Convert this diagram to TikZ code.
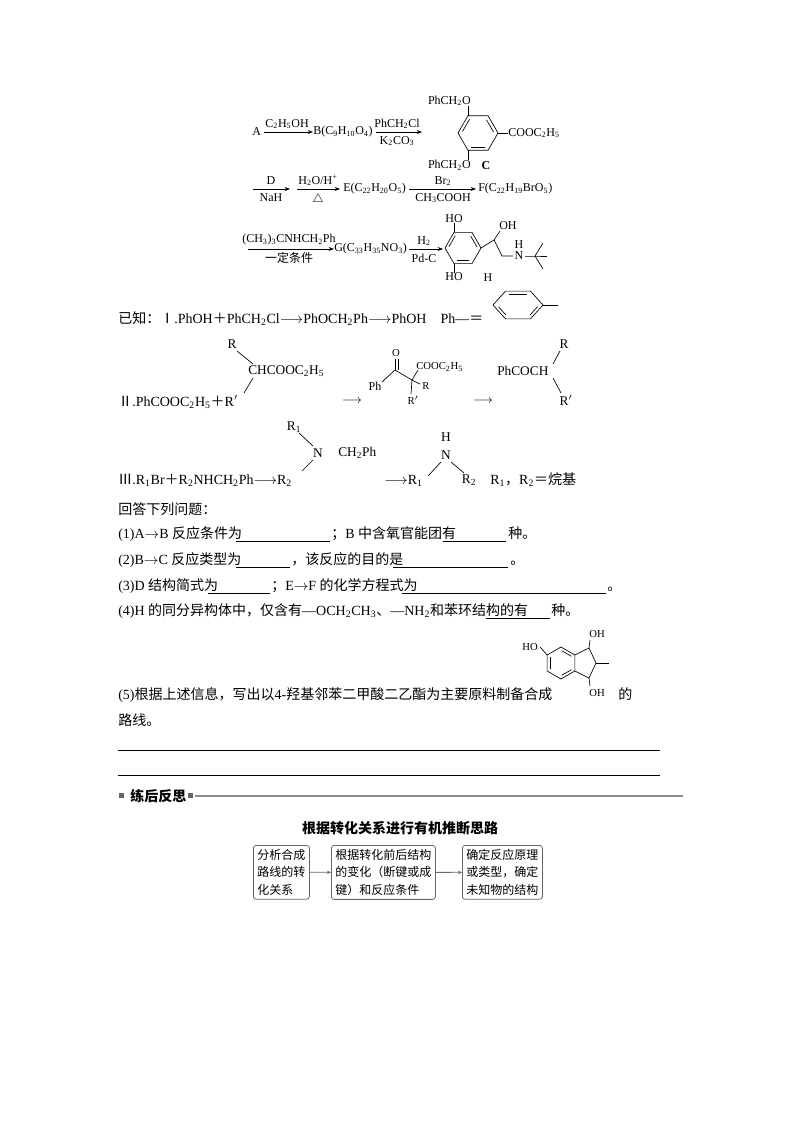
\documentclass[tikz,border=0pt]{standalone}
\usepackage{fontspec}
\setmainfont{Liberation Serif}
\newfontfamily\cjk{Noto Sans CJK SC}
\usetikzlibrary{arrows.meta,calc}
\newcommand{\z}[1]{{\cjk #1}}
\newcommand{\bz}[1]{{\cjk\bfseries #1}}
\newcommand{\cs}[1]{\textsubscript{#1}}
\begin{document}
\begin{tikzpicture}[x=0.75pt,y=-0.75pt,
  t/.style={inner sep=0pt,font=\fontsize{9}{10}\selectfont},
  q/.style={inner sep=0pt,anchor=base west,font=\fontsize{10.5}{12}\selectfont},
  rx/.style={-{Stealth[length=4pt,width=3pt]},line width=0.5pt},
  bd/.style={line width=0.5pt},
  ul/.style={line width=0.5pt},
  bx/.style={draw=black!60,rounded corners=2pt,line width=0.6pt,inner sep=3pt,align=left,font=\cjk\fontsize{9}{13}\selectfont},
  ga/.style={-{Stealth[length=3pt,width=2.5pt]},draw=black!60,line width=0.6pt}]
\useasboundingbox (0,0) rectangle (800,1132);
% ---------- row 1
\node[t,anchor=west] (A) at (252,132) {A};
\node[t,anchor=west] (B) at (313,132) {B(C\cs{9}H\cs{10}O\cs{4})};
\draw[rx] (A.east)++(3,0) coordinate (a1) -- (B.west) coordinate (a2);
\node[t] (r1) at (287,124) {C\cs{2}H\cs{5}OH};
\coordinate (c1) at (422,132);
\draw[rx] (B.east)++(3,0) coordinate (b1) -- (c1);
\node[t] (r2) at (397,124) {PhCH\cs{2}Cl};
\node[t] (r3) at (397,141) {K\cs{2}CO\cs{3}};
% ring C
\foreach \i in {0,...,5}{\coordinate (C\i) at ($(478,133)+(\i*60:20 and -20)$);}
\draw[bd] (C0)--(C1)--(C2)--(C3)--(C4)--(C5)--cycle;
\draw[bd] ($(C0)!0.15!(C1)+(-3,1.5)$)--($(C0)!0.85!(C1)+(-3,1.5)$);
\draw[bd] ($(C2)!0.15!(C3)+(3,1)$)--($(C2)!0.85!(C3)+(3,1)$);
\draw[bd] ($(C4)!0.15!(C5)+(0,-3)$)--($(C4)!0.85!(C5)+(0,-3)$);
\node[t,anchor=south east] (o1) at ($(C2)+(3,-10)$) {PhCH\cs{2}O};
\node[t,anchor=north east] (o2) at ($(C4)+(3,10)$) {PhCH\cs{2}O};
\draw[bd] (C2)--++(0,-10);
\draw[bd] (C4)--++(0,10);
\draw[bd] (C0)--++(10,0) node[t,anchor=west] (ce) {COOC\cs{2}H\cs{5}};
\node[t,font=\bfseries\fontsize{9}{10}\selectfont] (Cl) at (486,166) {C};
% ---------- row 2
\coordinate (d0) at (253,189); \coordinate (d1) at (290,189);
\draw[rx] (d0)--(d1);
\node[t] (dD) at (271,181) {D}; \node[t] (dN) at (271,198) {NaH};
\coordinate (e0) at (297,189); \coordinate (e1) at (340,189);
\draw[rx] (e0)--(e1);
\node[t] (eH) at (318,180) {H\cs{2}O/H\textsuperscript{+}}; \node[t] (eD) at (318,199) {$\triangle$};
\node[t,anchor=west] (E) at (343,189) {E(C\cs{22}H\cs{20}O\cs{5})};
\coordinate (f1) at (476,189);
\draw[rx] (E.east)++(3,0) coordinate (f0) -- (f1);
\node[t] (fB) at (443,181) {Br\cs{2}}; \node[t] (fC) at (443,198) {CH\cs{3}COOH};
\node[t,anchor=west] (F) at (478,189) {F(C\cs{22}H\cs{19}BrO\cs{5})};
% ---------- row 3
\coordinate (g0) at (248,249);
\node[t,anchor=west] (G) at (334,249) {G(C\cs{33}H\cs{35}NO\cs{3})};
\draw[rx] (g0)--(G.west);
\node[t] (gr) at (289,240) {(CH\cs{3})\cs{3}CNHCH\cs{2}Ph};
\node[t] (gc) at (289,258) {\z{一定条件}};
\coordinate (h1) at (443,249);
\draw[rx] (G.east)++(2,0) coordinate (h0) -- (h1);
\node[t] (hH) at (424,241) {H\cs{2}}; \node[t] (hP) at (424,258) {Pd-C};
% ring H
\foreach \i in {0,...,5}{\coordinate (H\i) at ($(463,248)+(\i*60:18 and -18)$);}
\draw[bd] (H0)--(H1)--(H2)--(H3)--(H4)--(H5)--cycle;
\draw[bd] ($(H0)!0.15!(H1)+(-2.6,1.4)$)--($(H0)!0.85!(H1)+(-2.6,1.4)$);
\draw[bd] ($(H2)!0.15!(H3)+(2.6,1)$)--($(H2)!0.85!(H3)+(2.6,1)$);
\draw[bd] ($(H4)!0.15!(H5)+(0,-2.8)$)--($(H4)!0.85!(H5)+(0,-2.8)$);
\draw[bd] (H2)--++(0,-9) node[t,anchor=south] (ho1) {HO};
\draw[bd] (H4)--++(0,9) node[t,anchor=north] (ho2) {HO};
\coordinate (k1) at (494,240); \coordinate (k2) at (502,256);
\draw[bd] (H0)--(k1)--(k2)--(513,256);
\draw[bd] (k1)--(500,231);
\node[t,anchor=west] (oh) at (499,226) {OH};
\node[t] (Nn) at (519,256) {N}; \node[t] (NH) at (519,245) {H};
\coordinate (qc) at (535,256);
\draw[bd] (525,256)--(qc)--(547,256);
\draw[bd] (qc)--(543,243); \draw[bd] (qc)--(543,269);
\node[t] (Hl) at (488,278) {H};
% ---------- known I
\node[q] (k1t) at (118,323) {\z{已知：Ⅰ}.PhOH\z{＋}PhCH\cs{2}Cl$\longrightarrow$PhOCH\cs{2}Ph$\longrightarrow$PhOH\quad Ph—\z{＝}};
\foreach \i in {0,...,5}{\coordinate (P\i) at ($(518,305)+(\i*60:25 and -16)$);}
\draw[bd] (P0)--(P1)--(P2)--(P3)--(P4)--(P5)--cycle;
\draw[bd] ($(P1)!0.15!(P2)+(0,3)$)--($(P1)!0.85!(P2)+(0,3)$);
\draw[bd] ($(P3)!0.2!(P4)+(3,-1)$)--($(P3)!0.8!(P4)+(3,-1)$);
\draw[bd] ($(P5)!0.2!(P0)+(-3,-1)$)--($(P5)!0.8!(P0)+(-3,-1)$);
\draw[bd] (P0)--(558,305);
% ---------- known II
\node[q] (k2t) at (118,406) {\z{Ⅱ}.PhCOOC\cs{2}H\cs{5}\z{＋}R$'$};
\node[t,font=\fontsize{10}{11}\selectfont] (R1) at (232,344) {R};
\node[t,anchor=west,font=\fontsize{10}{11}\selectfont] (CH) at (248,371) {CHCOOC\cs{2}H\cs{5}};
\draw[bd] (237,351)--(253,364); \draw[bd] (253,378)--(244,393);
\node[t] (ar2) at (352,401) {$\longrightarrow$};
\node[t] (Ph2) at (375,386) {Ph};
\coordinate (m1) at (395,370); \coordinate (m2) at (412,380);
\draw[bd] (382,382)--(m1)--(m2);
\draw[bd] (m1)--(395,359); \draw[bd] (398,370)--(398,359);
\node[t,font=\fontsize{8}{9}\selectfont] (O2) at (396,353) {O};
\draw[bd] (m2)--(418,370); \draw[bd] (m2)--(420,384); \draw[bd] (m2)--(411,394);
\node[t,anchor=west,font=\fontsize{8}{9}\selectfont] (co2) at (416,367) {COOC\cs{2}H\cs{5}};
\node[t,font=\fontsize{8}{9}\selectfont] (R2) at (426,386) {R};
\node[t,font=\fontsize{8}{9}\selectfont] (R2p) at (413,400) {R$'$};
\node[t] (ar3) at (483,401) {$\longrightarrow$};
\node[t,anchor=west,font=\fontsize{10}{11}\selectfont] (PC) at (497,371) {PhCOCH};
\node[t,font=\fontsize{10}{11}\selectfont] (R3) at (564,344) {R};
\node[t,font=\fontsize{10}{11}\selectfont] (R3p) at (566,400) {R$'$};
\draw[bd] (560,351)--(553,364); \draw[bd] (553,378)--(561,393);
% ---------- known III
\node[q] (k3t) at (118,484) {\z{Ⅲ}.R\cs{1}Br\z{＋}R\cs{2}NHCH\cs{2}Ph$\longrightarrow$R\cs{2}};
\node[t,font=\fontsize{10}{11}\selectfont] (N1) at (318,453) {N};
\node[t,font=\fontsize{10}{11}\selectfont] (ra) at (294,427) {R\cs{1}};
\node[t,anchor=west,font=\fontsize{10}{11}\selectfont] (cp) at (338,453) {CH\cs{2}Ph};
\draw[bd] (299,433)--(313,446); \draw[bd] (313,460)--(302,471);
\node[q] (ar4) at (384,484) {$\longrightarrow$R\cs{1}};
\node[t,font=\fontsize{10}{11}\selectfont] (N2) at (446,455) {N};
\node[t,font=\fontsize{10}{11}\selectfont] (N2H) at (446,437) {H};
\node[t,font=\fontsize{10}{11}\selectfont] (rb) at (469,480) {R\cs{2}};
\draw[bd] (441,462)--(428,476); \draw[bd] (451,462)--(464,473);
\node[q] (alk) at (490,484) {R\cs{1}\z{，}R\cs{2}\z{＝烷基}};
% ---------- questions
\node[q] (qa) at (118,514) {\z{回答下列问题：}};
\node[q] (q1) at (118,538) {(1)A$\rightarrow$B \z{反应条件为}};
\node[q] (q1m) at (331,538) {\z{；}B \z{中含氧官能团有}};
\draw[ul] (236,541)--(330,541); \draw[ul] (443,541)--(506,541);
\node[q] (q1b) at (508,538) {\z{种。}};
\node[q] (q2) at (118,564) {(2)B$\rightarrow$C \z{反应类型为}};
\draw[ul] (236,567)--(290,567); \draw[ul] (393,567)--(508,567);
\node[q] (q2b) at (291,564) {\z{，该反应的目的是}};
\node[q] (q2c) at (510,564) {\z{。}};
\node[q] (q3) at (118,590) {(3)D \z{结构简式为}};
\draw[ul] (208,593)--(270,593); \draw[ul] (402,593)--(606,593);
\node[q] (q3b) at (271,590) {\z{；}E$\rightarrow$F \z{的化学方程式为}};
\node[q] (q3c) at (607,590) {\z{。}};
\node[q] (q4) at (118,615) {(4)H \z{的同分异构体中，仅含有}—OCH\cs{2}CH\cs{3}\z{、}—NH\cs{2}\z{和苯环结构的有}};
\draw[ul] (486,618)--(550,618);
\node[q] (q4b) at (551,615) {\z{种。}};
\node[q] (q5) at (118,699) {(5)\z{根据上述信息，写出以}4-\z{羟基邻苯二甲酸二乙酯为主要原料制备合成}};
\node[q] (q5b) at (618,699) {\z{的}};
\node[q] (q5c) at (118,725) {\z{路线。}};
\draw[ul] (118,750)--(660,750); \draw[ul] (118,775)--(660,775);
% indane
\foreach \i in {0,...,5}{\coordinate (I\i) at ($(561,663)+(90+\i*60:16 and -16)$);}
\draw[bd] (I0)--(I1)--(I2)--(I3)--(I4)--(I5)--cycle;
\draw[bd] ($(I1)!0.15!(I2)+(2.8,0)$)--($(I1)!0.85!(I2)+(2.8,0)$);
\draw[bd] ($(I3)!0.15!(I4)+(-1.4,-2.5)$)--($(I3)!0.85!(I4)+(-1.4,-2.5)$);
\draw[bd] ($(I5)!0.15!(I0)+(-1.4,2.5)$)--($(I5)!0.85!(I0)+(-1.4,2.5)$);
\coordinate (J1) at (589,648); \coordinate (J2) at (596,663); \coordinate (J3) at (589,678);
\draw[bd] (I5)--(J1)--(J2)--(J3)--(I4);
\draw[bd] (J2)--(609,663);
\draw[bd] (J1)--(590,640); \draw[bd] (J3)--(590,686);
\draw[bd] (I1)--(540,647);
\node[t,font=\fontsize{8}{9}\selectfont] (IH1) at (530,647) {HO};
\node[t,font=\fontsize{8}{9}\selectfont] (IO1) at (597,634) {OH};
\node[t,font=\fontsize{8}{9}\selectfont] (IO2) at (597,693) {OH};
% ---------- section
\fill[black!60] (119,793) rectangle (124,798);
\node[q] (sec) at (130,801) {\bz{练后反思}};
\fill[black!60] (188,793) rectangle (193,798);
\draw[black!45,line width=1pt] (195,796)--(683,796);
\node[inner sep=0pt,font=\cjk\bfseries\fontsize{10.5}{12}\selectfont] (ttl) at (400,828) {根据转化关系进行有机推断思路};
\node[bx,anchor=north west,minimum height=37pt] (b1) at (253,845) {分析合成\\路线的转\\化关系};
\node[bx,anchor=north west,minimum height=37pt] (b2) at (331,845) {根据转化前后结构\\的变化（断键或成\\键）和反应条件};
\node[bx,anchor=north west,minimum height=37pt] (b3) at (462,845) {确定反应原理\\或类型，确定\\未知物的结构};
\draw[ga] (b1)--(b2); \draw[ga] (b2)--(b3);
\end{tikzpicture}
\end{document}
